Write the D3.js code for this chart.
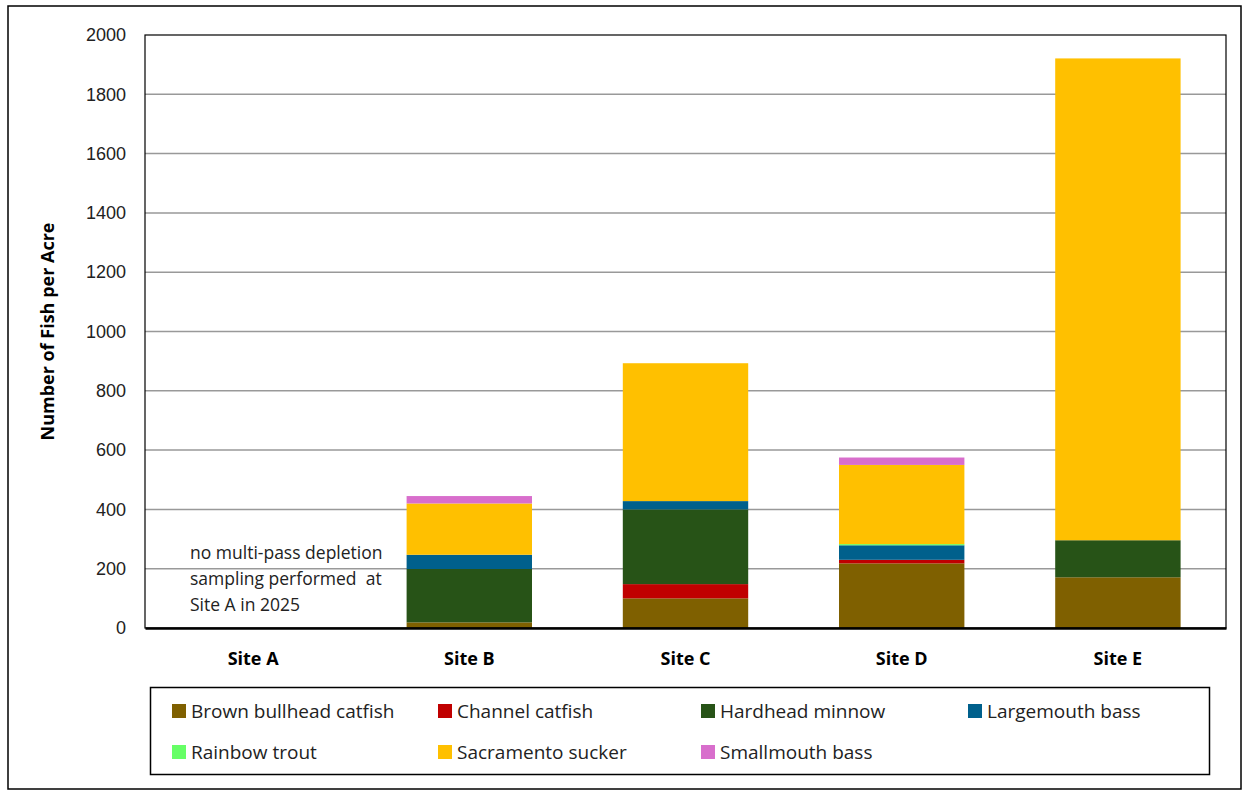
<!DOCTYPE html>
<html>
<head>
<meta charset="utf-8">
<script src="https://cdn.jsdelivr.net/npm/d3@7"></script>
<style>
  body { margin: 0; background: #fff; }
  svg { display: block; }
</style>
</head>
<body>
<svg id="chart" width="1244" height="791"></svg>
<script>
// Fish density per site (fish per acre), stacked by species
const sites = ["Site A", "Site B", "Site C", "Site D", "Site E"];
const species = ["Brown bullhead catfish", "Channel catfish", "Hardhead minnow", "Largemouth bass",
                 "Rainbow trout", "Sacramento sucker", "Smallmouth bass"];
const brownBullhead   = [0, 19, 100, 218, 171];
const channelCatfish  = [0, 0, 48, 12, 0];
const hardheadMinnow  = [0, 180, 252, 0, 125];
const largemouthBass  = [0, 48, 28, 49, 0];
const rainbowTrout    = [0, 0, 0, 4, 0];
const sacramentoSucker= [0, 173, 465, 267, 1625];
const smallmouthBass  = [0, 25, 0, 25, 0];
const yTicks = [0, 200, 400, 600, 800, 1000, 1200, 1400, 1600, 1800, 2000];
const colors = ["#7F6000", "#C00000", "#275317", "#00608C", "#66FF66", "#FFC000", "#D86ECC"];
const noteLines = ["no multi-pass depletion", "sampling performed  at", "Site A in 2025"];

const seriesValues = [brownBullhead, channelCatfish, hardheadMinnow, largemouthBass,
                      rainbowTrout, sacramentoSucker, smallmouthBass];
const rows = sites.map((s, i) => {
  const r = { site: s };
  species.forEach((sp, j) => r[sp] = seriesValues[j][i]);
  return r;
});

const svg = d3.select("#chart");
const m = { left: 145, right: 1226, top: 35, bottom: 628 };
const labelFont = "Open Sans, sans-serif";

// outer chart frame
svg.append("rect").attr("x", 8).attr("y", 6).attr("width", 1233).attr("height", 783)
  .attr("fill", "#fff").attr("stroke", "#000").attr("stroke-width", 1.5);

const x = d3.scaleBand().domain(sites).range([m.left, m.right]).paddingInner(0.42).paddingOuter(0.21);
const y = d3.scaleLinear().domain([0, 2000]).range([m.bottom, m.top]);

// gridlines
svg.append("g").selectAll("line").data(yTicks.filter(t => t > 0 && t < 2000)).join("line")
  .attr("x1", m.left).attr("x2", m.right)
  .attr("y1", d => y(d)).attr("y2", d => y(d))
  .attr("stroke", "#999").attr("stroke-width", 1.5);

// stacked bars
const stack = d3.stack().keys(species)(rows);
svg.append("g").selectAll("g").data(stack).join("g")
  .attr("fill", (d, i) => colors[i])
  .selectAll("rect").data(d => d).join("rect")
  .attr("x", d => x(d.data.site))
  .attr("width", x.bandwidth())
  .attr("y", d => y(d[1]))
  .attr("height", d => y(d[0]) - y(d[1]));

// plot frame
svg.append("rect").attr("x", m.left).attr("y", m.top)
  .attr("width", m.right - m.left).attr("height", m.bottom - m.top)
  .attr("fill", "none").attr("stroke", "#000").attr("stroke-width", 1.2);

// y axis
const yAxis = d3.axisLeft(y).tickValues(yTicks).tickFormat(d3.format("d")).tickSize(0).tickPadding(19);
const gy = svg.append("g").attr("transform", `translate(${m.left},0)`).call(yAxis);
gy.select(".domain").remove();
gy.selectAll("text").attr("font-family", "Liberation Sans, Arial, sans-serif")
  .attr("font-size", 18).attr("fill", "#222");

// x axis
const xAxis = d3.axisBottom(x).tickSize(0).tickPadding(24);
const gx = svg.append("g").attr("transform", `translate(0,${m.bottom})`).call(xAxis);
gx.select(".domain").attr("stroke", "#000").attr("stroke-width", 2.5);
gx.selectAll("text").attr("font-family", labelFont)
  .attr("font-size", 18).attr("font-weight", "bold").attr("fill", "#000");

// y title
svg.append("text")
  .attr("transform", `translate(54,${(m.top + m.bottom) / 2}) rotate(-90)`)
  .attr("text-anchor", "middle")
  .attr("font-family", labelFont)
  .attr("font-size", 18).attr("font-weight", "bold")
  .text("Number of Fish per Acre");

// note for Site A
svg.append("text")
  .attr("font-family", labelFont).attr("font-size", 17.5).attr("fill", "#222")
  .attr("xml:space", "preserve").style("white-space", "pre")
  .selectAll("tspan").data(noteLines).join("tspan")
  .attr("x", 190).attr("y", (d, i) => 559 + i * 26)
  .text(d => d);

// legend
const lg = svg.append("g");
lg.append("rect").attr("x", 150.5).attr("y", 687.5).attr("width", 1059).attr("height", 87)
  .attr("fill", "#fff").attr("stroke", "#000").attr("stroke-width", 1.5);
const colX = [172, 438, 701, 968];
const rowY = [711, 752];
const items = lg.selectAll("g.item").data(species).join("g").attr("class", "item")
  .attr("transform", (d, i) => `translate(${colX[i % 4]},${rowY[Math.floor(i / 4)]})`);
items.append("rect").attr("x", 0).attr("y", -7).attr("width", 14).attr("height", 14)
  .attr("fill", (d, i) => colors[i]);
items.append("text").attr("x", 19).attr("y", 0).attr("dy", "0.35em")
  .attr("font-family", labelFont).attr("font-size", 19).attr("fill", "#222")
  .text(d => d);
</script>
</body>
</html>
